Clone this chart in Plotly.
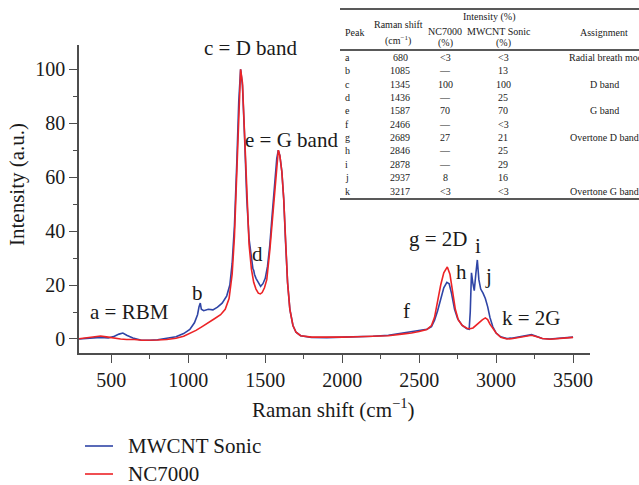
import plotly.graph_objects as go

# ---------------- data ----------------
shift_mwcnt = [290, 330, 380, 430, 480, 520, 550, 575, 600, 640, 690, 750, 800, 860, 920, 970,
               1010, 1040, 1060, 1070, 1078, 1085, 1100, 1130, 1160, 1190, 1220, 1250, 1270, 1285,
               1300, 1315, 1328, 1340, 1352, 1365, 1380, 1395, 1410, 1420, 1425, 1430, 1440, 1455,
               1470, 1485, 1500, 1515, 1530, 1545, 1560, 1575, 1585, 1595, 1608, 1620, 1632, 1645,
               1660, 1680, 1700, 1730, 1800, 1900, 2000, 2100, 2200, 2300, 2400, 2450, 2500, 2550,
               2580, 2600, 2620, 2640, 2660, 2680, 2695, 2710, 2730, 2750, 2780, 2810, 2825, 2832,
               2840, 2848, 2858, 2868, 2878, 2888, 2900, 2915, 2930, 2945, 2960, 2978, 3000, 3030,
               3070, 3100, 3150, 3200, 3230, 3260, 3300, 3350, 3400, 3450, 3500]
int_mwcnt = [0.0, 0.2, 0.5, 0.6, 0.4, 1.0, 1.8, 2.2, 1.4, 0.4, -0.4, -0.5, -0.3, 0.2, 0.8, 2.0,
             3.5, 6.0, 9.0, 12.0, 13.3, 11.0, 10.5, 11.0, 10.8, 11.8, 13.3, 16, 20, 28,
             42, 65, 88, 100, 94, 76, 52, 37, 29, 26, 25.5, 24, 22.5, 21,
             19.5, 20.5, 22.5, 27, 35, 46, 57, 67, 70, 68, 62, 52, 36, 21,
             11, 5, 2.5, 1.2, 0.6, 0.5, 0.7, 0.8, 1.0, 1.4, 2.3, 2.8, 3.0, 3.6,
             4.6, 7, 10.5, 15, 19, 21, 20.5, 17, 11, 7.5, 5, 3.8, 3.6, 10,
             24.5, 21, 17.9, 24, 29.3, 22, 18.5, 17, 15, 12, 8, 4.6, 2.2, 0.8,
             0.2, 0.3, 0.8, 1.5, 1.6, 1.0, 0.2, 0.0, 0.3, 0.4, 0.7]

shift_nc7000 = [290, 330, 380, 430, 480, 520, 560, 600, 650, 700, 750, 800, 860, 920, 970, 1010,
                1050, 1090, 1130, 1170, 1210, 1240, 1265, 1285, 1300, 1315, 1328, 1340, 1352, 1365,
                1380, 1395, 1410, 1425, 1440, 1455, 1468, 1480, 1495, 1510, 1530, 1545, 1560, 1575,
                1585, 1595, 1608, 1620, 1632, 1645, 1660, 1680, 1700, 1730, 1800, 1900, 2000, 2100,
                2200, 2300, 2400, 2450, 2500, 2550, 2580, 2600, 2620, 2640, 2660, 2683, 2700, 2715,
                2735, 2755, 2780, 2810, 2830, 2850, 2870, 2890, 2910, 2930, 2945, 2960, 2980, 3000,
                3030, 3070, 3100, 3150, 3200, 3230, 3260, 3300, 3350, 3400, 3450, 3500]
int_nc7000 = [0.1, 0.4, 0.8, 1.1, 0.7, 0.3, 0.0, -0.2, -0.2, -0.5, -0.5, -0.4, -0.2, 0.3, 1.0, 2.0,
              3.2, 4.6, 6.2, 7.5, 9.0, 11, 15, 24, 38, 60, 85, 100, 95, 76,
              52, 35, 26, 21, 18.5, 17, 16.7, 17.2, 19, 22, 33, 44, 55, 66,
              70, 68, 62, 52, 36, 21, 11, 5, 2.5, 1.2, 0.7, 0.6, 0.7, 0.8,
              0.9, 1.2, 1.9, 2.2, 2.8, 3.5, 5, 8, 14, 20, 24.5, 26.7, 24, 18,
              11, 7, 5, 4, 3.8, 4.1, 5.2, 6.2, 7.1, 7.8, 7.2, 5.5, 3.6, 2.2,
              0.6, 0.0, 0.1, 0.6, 1.3, 1.4, 0.9, 0.2, -0.1, 0.1, 0.3, 0.6]

x_ticks = [500, 1000, 1500, 2000, 2500, 3000, 3500]
y_ticks = [0, 20, 40, 60, 80, 100]

series_names = ["MWCNT Sonic", "NC7000"]

# peak labels on the spectrum
peak_labels = ["a = RBM", "b", "c = D band", "d", "e = G band", "f", "g = 2D", "h", "i", "j", "k = 2G"]
peak_label_x = [617, 1061, 1407, 1452, 1668, 2418, 2627, 2777, 2881, 2953, 3233]
peak_label_y = [10, 17, 108, 31.5, 73.7, 10.4, 37, 25, 34.4, 23.3, 7.8]

# table
tbl_peak = ["a", "b", "c", "d", "e", "f", "g", "h", "i", "j", "k"]
tbl_shift = ["680", "1085", "1345", "1436", "1587", "2466", "2689", "2846", "2878", "2937", "3217"]
tbl_nc7000 = ["<3", "—", "100", "—", "70", "—", "27", "—", "—", "8", "<3"]
tbl_mwcnt = ["<3", "13", "100", "25", "70", "<3", "21", "25", "29", "16", "<3"]
tbl_assign = ["Radial breath mode", "", "D band", "", "G band", "", "Overtone D band", "", "", "", "Overtone G band"]

# ---------------- layout geometry ----------------
W, H = 639, 485
ML, MR, MT, MB = 79, 49, 45, 132
PW, PH = W - ML - MR, H - MT - MB

def px(x):
    return (x - ML) / PW

def py(y):
    return 1 - (y - MT) / PH

FONT = "Liberation Serif, Times New Roman, serif"
BLUE = "#2f45a6"
RED = "#ec2326"
AX = "#4d4d4d"
TXT = "#1a1a1a"

fig = go.Figure()
fig.add_trace(go.Scatter(x=shift_mwcnt, y=int_mwcnt, mode="lines", name=series_names[0],
                         line=dict(color=BLUE, width=1.6)))
fig.add_trace(go.Scatter(x=shift_nc7000, y=int_nc7000, mode="lines", name=series_names[1],
                         line=dict(color=RED, width=1.6)))

annotations = []
for t, x, y in zip(peak_labels, peak_label_x, peak_label_y):
    annotations.append(dict(x=x, y=y, xref="x", yref="y", text=t, showarrow=False,
                            font=dict(family=FONT, size=21, color=TXT),
                            xanchor="center", yanchor="middle"))

# axis titles
annotations.append(dict(x=px(333), y=py(408), xref="paper", yref="paper",
                        text="Raman shift (cm<sup>−1</sup>)", showarrow=False,
                        font=dict(family=FONT, size=21, color=TXT),
                        xanchor="center", yanchor="middle"))
annotations.append(dict(x=px(17), y=py(185), xref="paper", yref="paper",
                        text="Intensity (a.u.)", showarrow=False, textangle=-90,
                        font=dict(family=FONT, size=21, color=TXT),
                        xanchor="center", yanchor="middle"))

shapes = []

# legend (drawn below the axes, outside the plot area)
for name, color, ly in zip(series_names, [BLUE, RED], [446, 474]):
    shapes.append(dict(type="line", xref="paper", yref="paper", x0=px(85), x1=px(113),
                       y0=py(ly), y1=py(ly), line=dict(color=color, width=1.6)))
    annotations.append(dict(x=px(126), y=py(ly), xref="paper", yref="paper", text=name,
                            showarrow=False, font=dict(family=FONT, size=21, color=TXT),
                            xanchor="left", yanchor="middle"))

# table text
TF = dict(family=FONT, size=10, color=TXT)
def tb(text, x, y, anchor="center"):
    annotations.append(dict(x=px(x), y=py(y), xref="paper", yref="paper", text=text,
                            showarrow=False, font=TF, xanchor=anchor, yanchor="middle"))

tb("Intensity (%)", 489, 17)
tb("Peak", 343, 32, "left")
tb("Raman shift", 398, 24)
tb("(cm<sup>−1</sup>)", 398, 40)
tb("NC7000", 445, 31)
tb("(%)", 445, 43)
tb("MWCNT Sonic", 499, 31)
tb("(%)", 503, 43)
tb("Assignment", 604, 32)

row0, dy = 57.5, 13.35
for i in range(len(tbl_peak)):
    yy = row0 + i * dy
    tb(tbl_peak[i], 343, yy, "left")
    tb(tbl_shift[i], 400, yy)
    tb(tbl_nc7000[i], 445, yy)
    tb(tbl_mwcnt[i], 503, yy)
    if tbl_assign[i]:
        if tbl_assign[i].startswith("Radial"):
            tb(tbl_assign[i], 567, yy, "left")
        else:
            tb(tbl_assign[i], 604, yy)

for yline, w in [(9, 1.6), (50, 1.4), (199, 1.6)]:
    shapes.append(dict(type="line", xref="paper", yref="paper", x0=px(340), x1=px(650),
                       y0=py(yline), y1=py(yline), line=dict(color="#222", width=w)))

axis_common = dict(showgrid=False, zeroline=False, showline=True, linecolor=AX, linewidth=1.5,
                   ticks="outside", tickcolor=AX, tickwidth=1.3, ticklen=8,
                   tickfont=dict(family=FONT, size=20, color=TXT))

fig.update_layout(
    width=W, height=H,
    margin=dict(l=ML, r=MR, t=MT, b=MB),
    paper_bgcolor="white", plot_bgcolor="white",
    xaxis=dict(range=[290, 3610], tickvals=x_ticks,
               minor=dict(dtick=250, ticks="outside", ticklen=4, tickcolor=AX, tickwidth=1.2),
               **axis_common),
    yaxis=dict(range=[-5.2, 109], tickvals=y_ticks,
               minor=dict(dtick=10, ticks="outside", ticklen=4, tickcolor=AX, tickwidth=1.2),
               **axis_common),
    showlegend=False,
    annotations=annotations,
    shapes=shapes,
)

fig.write_html("out.html")
